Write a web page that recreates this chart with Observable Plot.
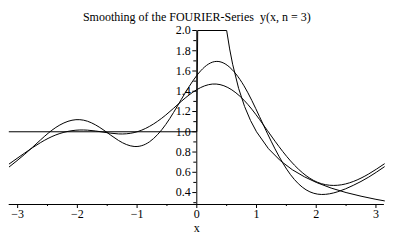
<!DOCTYPE html>
<html><head><meta charset="utf-8">
<script src="https://cdn.jsdelivr.net/npm/d3@7"></script>
<script src="https://cdn.jsdelivr.net/npm/@observablehq/plot@0.6"></script>
<style>body{margin:0;background:#fff;} #chart svg{display:block;}</style>
</head><body><div id="chart"></div>
<script>
const title = "Smoothing of the FOURIER-Series  y(x, n = 3)";
// sample positions
const xs = [-3.14, -2.88, -2.62, -2.36, -2.09, -1.83, -1.57, -1.31, -1.05, -0.79, -0.52, -0.26, 0,
            0.26, 0.52, 0.79, 1.05, 1.31, 1.57, 1.83, 2.09, 2.36, 2.62, 2.88, 3.14];
// plain Fourier partial sum n = 3
const yFourier = [0.654, 0.779, 0.918, 1.043, 1.114, 1.104, 1.021, 0.914, 0.855, 0.902, 1.072, 1.319, 1.556,
                  1.687, 1.652, 1.454, 1.150, 0.831, 0.576, 0.427, 0.381, 0.408, 0.471, 0.553, 0.654];
// smoothed partial sum
const ySmooth = [0.683, 0.791, 0.892, 0.969, 1.011, 1.016, 0.997, 0.979, 0.992, 1.054, 1.165, 1.300, 1.416,
                 1.471, 1.437, 1.312, 1.122, 0.907, 0.712, 0.567, 0.487, 0.472, 0.509, 0.584, 0.683];
// original function
const xOrig = [-3.1416, 0, 0.015, 0.5, 0.55, 0.6, 0.7, 0.8, 0.9, 1.0, 1.2, 1.4, 1.6, 1.8, 2.0, 2.25, 2.5, 2.75, 3.0, 3.1416];
const yOrig = [1, 1, 2, 2, 1.818, 1.667, 1.429, 1.25, 1.111, 1.0, 0.833, 0.714, 0.625, 0.556, 0.5, 0.444, 0.4, 0.364, 0.333, 0.318];

const xTicks = [-3, -2, -1, 0, 1, 2, 3];
const xMinor = [-2.5, -1.5, -0.5, 0.5, 1.5, 2.5];
const yTicks = [0.4, 0.6, 0.8, 1.0, 1.2, 1.4, 1.6, 1.8, 2.0];
const yMinor = [0.3, 0.5, 0.7, 0.9, 1.1, 1.3, 1.5, 1.7, 1.9];

const W = 393, H = 243, mL = 8.7, mR = 9.1, mT = 30, mB = 39;
const xDomain = [-Math.PI, Math.PI];
const yDomain = [0.282, 2.0];
const yAxisDx = (0 - xDomain[0]) / (xDomain[1] - xDomain[0]) * (W - mL - mR);

const series = (X, Y) => X.map((x, i) => ({x, y: Y[i]}));
const font = "'Liberation Serif', 'Times New Roman', serif";

const chart = Plot.plot({
  width: W, height: H,
  marginLeft: mL, marginRight: mR, marginTop: mT, marginBottom: mB,
  style: {fontFamily: font, fontSize: "12px", color: "black", background: "white", overflow: "visible"},
  x: {domain: xDomain},
  y: {domain: yDomain},
  marks: [
    Plot.ruleY([yDomain[0]], {stroke: "black"}),
    Plot.ruleX([0], {stroke: "black"}),
    Plot.axisX({ticks: xTicks, tickSize: 4, tickPadding: 1, tickFormat: d3.format("d"), label: null, fontSize: 12}),
    Plot.axisX({ticks: xMinor, tickSize: 2, tickFormat: () => "", label: null}),
    Plot.axisY({anchor: "left", dx: yAxisDx, ticks: yTicks, tickSize: 4, tickPadding: 2,
                tickFormat: d3.format(".1f"), label: null, fontSize: 12}),
    Plot.axisY({anchor: "left", dx: yAxisDx, ticks: yMinor, tickSize: 3, tickFormat: () => "", label: null}),
    Plot.line(series(xOrig, yOrig), {x: "x", y: "y", stroke: "black", strokeWidth: 1}),
    Plot.line(series(xs, yFourier), {x: "x", y: "y", stroke: "black", strokeWidth: 1, curve: "natural"}),
    Plot.line(series(xs, ySmooth), {x: "x", y: "y", stroke: "black", strokeWidth: 1, curve: "natural"}),
    Plot.text(["x"], {x: 0, frameAnchor: "bottom", dy: 27, fontSize: 12}),
    Plot.text([title], {frameAnchor: "top", dy: -18.5, fontSize: 12})
  ]
});
document.getElementById("chart").appendChild(chart);
</script>
</body></html>
